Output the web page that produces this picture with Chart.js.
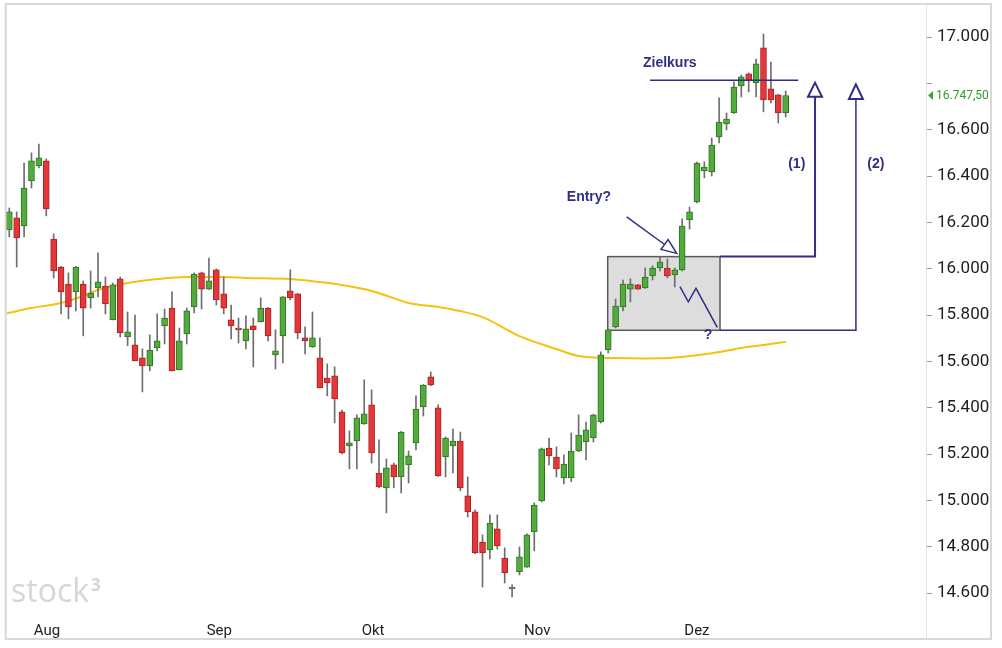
<!DOCTYPE html>
<html>
<head>
<meta charset="utf-8">
<script src="https://cdn.jsdelivr.net/npm/chart.js@4.4.0/dist/chart.umd.min.js"></script>
<style>
  html, body { margin: 0; padding: 0; background: #fff; }
  #wrap { position: relative; width: 1002px; height: 648px; }
</style>
</head>
<body>
<div id="wrap"><canvas id="chart" width="1002" height="648"></canvas></div>
<script>
// --- Kursdaten (Tageskerzen) ---
const opens = [16167,16219,16184,16379,16443,16465,16128,16007,15934,15900,
  15934,15874,15917,15925,15779,15956,15705,15671,15615,15580,
  15658,15753,15830,15563,15718,15835,15982,15912,15995,15891,
  15779,15744,15688,15753,15770,15830,15628,15710,15904,15891,
  15701,15662,15615,15528,15537,15382,15235,15256,15330,15412,
  15118,15054,15153,15101,15153,15248,15403,15533,15399,15187,
  15235,15256,15019,14950,14820,14786,14877,14751,14618,14691,
  14712,14864,14997,15226,15187,15097,15097,15213,15252,15269,
  15338,15649,15749,15835,15912,15930,15917,15969,16003,16003,
  15973,15995,16210,16288,16422,16418,16569,16625,16672,16789,
  16841,16802,16953,16776,16750,16672];
const highs = [16262,16245,16456,16500,16538,16474,16150,16010,15982,16010,
  15947,15990,16068,15964,15938,15964,15813,15800,15654,15714,
  15805,15826,15900,15744,15830,15982,15985,16046,15999,15964,
  15843,15787,15796,15787,15874,15832,15736,15880,15995,15893,
  15749,15813,15701,15589,15576,15390,15300,15369,15520,15477,
  15261,15179,15161,15298,15213,15451,15500,15554,15412,15274,
  15308,15295,15101,14959,14851,14937,14937,14795,14635,14799,
  14855,14989,15226,15269,15231,15196,15291,15369,15338,15372,
  15641,15740,15869,15951,15956,15932,16003,16012,16051,16042,
  16003,16215,16266,16460,16461,16564,16737,16672,16806,16836,
  16845,16905,17013,16892,16752,16767];
const lows = [16137,16007,16137,16348,16435,16228,15960,15805,15783,15818,
  15710,15830,15878,15805,15779,15705,15667,15602,15468,15559,
  15645,15675,15559,15563,15675,15809,15826,15910,15843,15805,
  15697,15679,15654,15576,15770,15688,15567,15593,15865,15697,
  15632,15660,15485,15451,15334,15200,15136,15136,15328,15161,
  15055,14946,15054,15032,15075,15218,15364,15495,15103,15101,
  15118,15041,14928,14770,14626,14747,14790,14643,14583,14678,
  14710,14782,14993,15153,15101,15071,15080,15210,15174,15252,
  15334,15636,15744,15818,15856,15910,15915,15951,15990,15960,
  15921,15990,16171,16284,16392,16400,16543,16599,16670,16741,
  16763,16741,16677,16715,16629,16655];
const closes = [16245,16133,16348,16465,16478,16258,15990,15900,15835,16007,
  15830,15895,15943,15848,15930,15723,15727,15602,15580,15649,
  15688,15787,15559,15688,15818,15977,15912,15947,15865,15830,
  15753,15736,15740,15736,15830,15710,15645,15878,15874,15723,
  15688,15701,15485,15507,15438,15205,15248,15356,15373,15205,
  15058,15140,15101,15295,15192,15394,15498,15498,15105,15269,
  15256,15054,14950,14773,14773,14902,14803,14687,14626,14756,
  14851,14980,15222,15192,15136,15157,15213,15282,15304,15369,
  15628,15736,15839,15934,15934,15912,15964,16003,16029,15969,
  15995,16184,16245,16456,16439,16534,16633,16646,16784,16828,
  16815,16884,16728,16728,16672,16747.5];

const maIdx = [-0.3, 3, 7, 10, 12, 16, 20, 24, 29, 32, 38, 42, 45, 49, 52, 54, 58, 61, 64, 69, 74, 77, 82, 86, 91, 96, 99, 105];
const maVals = [15808, 15830, 15852, 15882, 15908, 15938, 15955, 15964, 15964, 15960, 15955, 15942, 15929, 15904, 15873, 15852, 15835, 15817, 15791, 15709, 15653, 15623, 15614, 15612, 15619, 15640, 15658, 15683];

// Achsen
const monthLabels = ['Aug', 'Sep', 'Okt', 'Nov', 'Dez'];
const monthPos = [5.1, 28.4, 49.2, 71.4, 93.0];
const lastPrice = 16747.5;
const hiddenTick = 16800;

// --- Zeichnungen (in Index / Kurs) ---
const boxZone = { i0: 80.93, i1: 96.12, top: 16052, bottom: 15734 };
const targetLine = { i0: 86.65, i1: 106.7, v: 16813 };
const arrow1 = { i: 108.97, from: 16052, to: 16742, tip: 16803 };
const arrow2 = { i: 114.5, from: 15734, to: 16732, tip: 16796 };
const entryArrow = { i0: 83.5, v0: 16224, i1: 90.26, v1: 16066 };
const zigzag = [[90.7, 15922], [91.83, 15857], [92.87, 15915], [95.75, 15747]];
const notes = [
  { t: 'Zielkurs', i: 85.7, v: 16886, align: 'left' },
  { t: 'Entry?', i: 78.4, v: 16309, align: 'center' },
  { t: '(1)', i: 106.5, v: 16452, align: 'center' },
  { t: '(2)', i: 117.2, v: 16452, align: 'center' },
  { t: '?', i: 94.5, v: 15712, align: 'center' }
];

const NAVY = '#312e86';
const idx = closes.map((_, i) => i);
const isUp = idx.map(i => closes[i] >= opens[i]);

const fmt = v => String(v).replace(/\B(?=(\d{3})+(?!\d))/g, '.');

const overlay = {
  id: 'overlay',
  beforeDatasetsDraw(chart) {
    const { ctx, scales: { x, y } } = chart;
    const x0 = x.getPixelForValue(boxZone.i0), x1 = x.getPixelForValue(boxZone.i1);
    const y0 = y.getPixelForValue(boxZone.top), y1 = y.getPixelForValue(boxZone.bottom);
    ctx.save();
    ctx.fillStyle = '#dddddd';
    ctx.fillRect(x0, y0, x1 - x0, y1 - y0);
    ctx.strokeStyle = '#5a5a5a';
    ctx.lineWidth = 1.5;
    ctx.strokeRect(x0, y0, x1 - x0, y1 - y0);
    ctx.restore();
  },
  afterDraw(chart) {
    const { ctx, scales: { x, y } } = chart;
    const P = (i, v) => [x.getPixelForValue(i), y.getPixelForValue(v)];
    ctx.save();

    // Rahmen + Achsenlinie
    ctx.strokeStyle = '#d8d8d8';
    ctx.lineWidth = 2;
    ctx.strokeRect(5.7, 4, 985.3, 635);
    ctx.strokeStyle = '#e3e3e3';
    ctx.lineWidth = 1;
    ctx.beginPath();
    ctx.moveTo(926.5, 5); ctx.lineTo(926.5, 639);
    ctx.stroke();

    ctx.strokeStyle = NAVY;
    ctx.fillStyle = NAVY;

    // Zielkurs-Linie
    let a = P(targetLine.i0, targetLine.v), b = P(targetLine.i1, targetLine.v);
    ctx.lineWidth = 1.5;
    ctx.beginPath(); ctx.moveTo(a[0], a[1]); ctx.lineTo(b[0], b[1]); ctx.stroke();

    // Kursziel-Pfeile
    const vArrow = (ar, lw) => {
      const r = P(boxZone.i1, ar.from), s = P(ar.i, ar.from), t = P(ar.i, ar.to), tip = P(ar.i, ar.tip);
      ctx.lineWidth = lw;
      ctx.beginPath();
      ctx.moveTo(r[0], r[1]); ctx.lineTo(s[0], s[1]); ctx.lineTo(t[0], t[1]);
      ctx.stroke();
      ctx.lineWidth = 2;
      ctx.beginPath();
      ctx.moveTo(tip[0], tip[1]);
      ctx.lineTo(t[0] - 7, t[1]);
      ctx.lineTo(t[0] + 7, t[1]);
      ctx.closePath();
      ctx.stroke();
    };
    vArrow(arrow1, 2);
    vArrow(arrow2, 1.5);

    // Entry-Pfeil
    a = P(entryArrow.i0, entryArrow.v0); b = P(entryArrow.i1, entryArrow.v1);
    const dx = b[0] - a[0], dy = b[1] - a[1], len = Math.hypot(dx, dy);
    const ux = dx / len, uy = dy / len;
    const bx = b[0] - ux * 15, by = b[1] - uy * 15;
    ctx.lineWidth = 1.5;
    ctx.beginPath(); ctx.moveTo(a[0], a[1]); ctx.lineTo(bx, by); ctx.stroke();
    ctx.beginPath();
    ctx.moveTo(b[0], b[1]);
    ctx.lineTo(bx - uy * 6, by + ux * 6);
    ctx.lineTo(bx + uy * 6, by - ux * 6);
    ctx.closePath();
    ctx.stroke();

    // Zickzack im Kasten
    ctx.lineWidth = 1.5;
    ctx.beginPath();
    zigzag.forEach((p, k) => {
      const q = P(p[0], p[1]);
      if (k === 0) ctx.moveTo(q[0], q[1]); else ctx.lineTo(q[0], q[1]);
    });
    ctx.stroke();

    // Texte
    ctx.font = 'bold 14px "Liberation Sans", Arial, sans-serif';
    ctx.textBaseline = 'middle';
    notes.forEach(n => {
      const q = P(n.i, n.v);
      ctx.textAlign = n.align;
      ctx.fillText(n.t, q[0], q[1]);
    });

    // aktueller Kurs
    const py = y.getPixelForValue(lastPrice);
    ctx.fillStyle = '#3aa63a';
    ctx.beginPath();
    ctx.moveTo(928, py); ctx.lineTo(933, py - 4.5); ctx.lineTo(933, py + 4.5);
    ctx.closePath(); ctx.fill();
    ctx.fillStyle = '#2d9b2d';
    ctx.font = '12px Roboto, sans-serif';
    ctx.textAlign = 'left';
    ctx.fillText('16.747,50', 936, py + 0.5);

    // Logo
    ctx.fillStyle = '#d6d6d6';
    ctx.font = '32px "Open Sans", sans-serif';
    ctx.textBaseline = 'alphabetic';
    ctx.fillText('stock', 11, 602);
    const w = ctx.measureText('stock').width;
    ctx.font = 'bold 17px "Open Sans", sans-serif';
    ctx.fillText('3', 13 + w, 591);

    ctx.restore();
  }
};

const ctx = document.getElementById('chart').getContext('2d');
Chart.defaults.font.family = 'Roboto, sans-serif';

new Chart(ctx, {
  type: 'bar',
  data: {
    datasets: [
      {
        type: 'bar',
        label: 'Körper',
        data: idx.map(i => ({ x: i, y: [opens[i], closes[i]] })),
        backgroundColor: isUp.map(u => u ? '#53aa3d' : '#e3383a'),
        borderColor: isUp.map(u => u ? '#2c7420' : '#b01e22'),
        borderWidth: 1,
        borderSkipped: false,
        barThickness: 6,
        grouped: false,
        order: 1
      },
      {
        type: 'bar',
        label: 'Docht',
        data: idx.map(i => ({ x: i, y: [lows[i], highs[i]] })),
        backgroundColor: '#6e6e6e',
        borderWidth: 0,
        barThickness: 1,
        grouped: false,
        order: 2
      },
      {
        type: 'line',
        label: 'GD',
        data: maIdx.map((v, k) => ({ x: v, y: maVals[k] })),
        borderColor: '#f4c20d',
        borderWidth: 2,
        pointRadius: 0,
        cubicInterpolationMode: 'monotone',
        order: 3
      }
    ]
  },
  options: {
    responsive: false,
    animation: false,
    devicePixelRatio: 1,
    layout: { padding: { top: 4, left: 0, right: 0, bottom: 0 } },
    plugins: {
      legend: { display: false },
      tooltip: { enabled: false }
    },
    scales: {
      x: {
        type: 'linear',
        offset: false,
        min: -1.2578,
        max: 123.979,
        grid: { display: false, drawTicks: false },
        border: { display: false },
        afterBuildTicks: axis => { axis.ticks = monthPos.map(v => ({ value: v })); },
        afterFit: axis => {
          axis.height = 30;
          axis.paddingLeft = 0; axis.paddingRight = 0;
          axis.paddingTop = 0; axis.paddingBottom = 0;
        },
        ticks: {
          autoSkip: false,
          maxRotation: 0,
          minRotation: 0,
          padding: 4,
          color: '#222',
          font: { size: 15 },
          callback: (v, k) => monthLabels[k]
        }
      },
      y: {
        position: 'right',
        min: 14492.09,
        max: 17142.45,
        afterFit: axis => {
          axis.width = 76;
          axis.paddingTop = 0; axis.paddingBottom = 0;
          axis.paddingLeft = 0; axis.paddingRight = 0;
        },
        grid: {
          drawOnChartArea: false,
          drawTicks: true,
          tickLength: 6,
          tickColor: '#9a9a9a',
          tickWidth: 1
        },
        border: { display: false },
        ticks: {
          stepSize: 200,
          includeBounds: false,
          padding: 5,
          color: '#1e1e1e',
          font: { size: 17 },
          callback: v => v === hiddenTick ? '' : fmt(v)
        }
      }
    }
  },
  plugins: [overlay]
});
</script>
</body>
</html>
